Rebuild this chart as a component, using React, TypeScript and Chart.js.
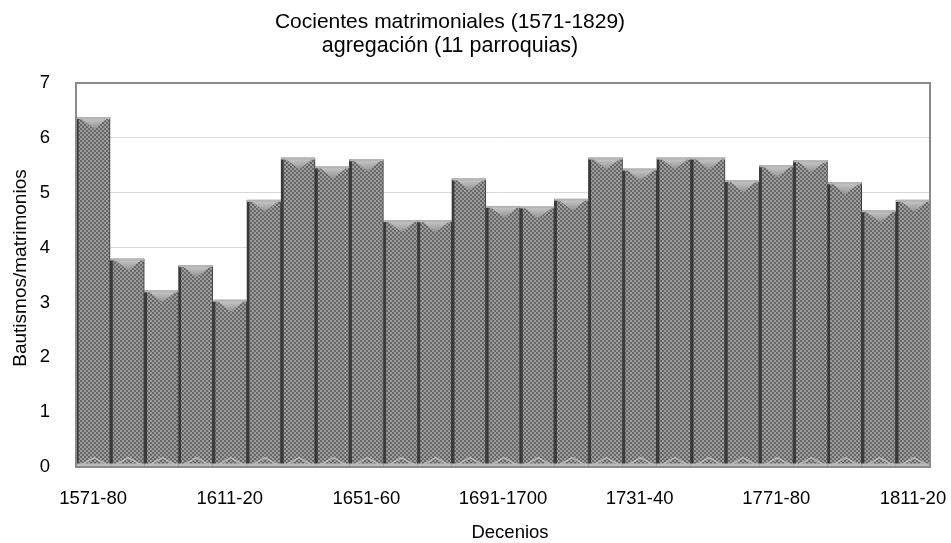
import React, { useEffect, useRef } from "react";
import { Chart, registerables } from "chart.js";

Chart.register(...registerables);

const decades = [
  "1571-80", "1581-90", "1591-1600", "1601-10", "1611-20", "1621-30", "1631-40",
  "1641-50", "1651-60", "1661-70", "1671-80", "1681-90", "1691-1700", "1701-10",
  "1711-20", "1721-30", "1731-40", "1741-50", "1751-60", "1761-70", "1771-80",
  "1781-90", "1791-1800", "1801-10", "1811-20",
];

const ratios = [
  6.38, 3.8, 3.22, 3.68, 3.05, 4.87, 5.64, 5.48, 5.61, 4.5, 4.5, 5.26, 4.76,
  4.75, 4.89, 5.64, 5.44, 5.64, 5.64, 5.23, 5.5, 5.59, 5.19, 4.68, 4.87,
];

const titleText = "Cocientes matrimoniales (1571-1829)";
const subtitleText = "agregación (11 parroquias)";
const xTitle = "Decenios";
const yTitle = "Bautismos/matrimonios";
const labelEvery = 4;
const yMax = 7;

const FONT = "'Liberation Sans', Arial, Helvetica, sans-serif";

function makePattern(): CanvasPattern | string {
  const c = document.createElement("canvas");
  c.width = 4;
  c.height = 4;
  const g = c.getContext("2d");
  if (!g) return "#7e7e7e";
  g.fillStyle = "#9c9c9c";
  g.fillRect(0, 0, 4, 4);
  g.fillStyle = "#686868";
  g.fillRect(0, 0, 2, 2);
  g.fillRect(2, 2, 2, 2);
  const p = g.createPattern(c, "repeat");
  return p || "#7e7e7e";
}

const titlePlugin = {
  id: "titles",
  afterDraw(chart: any) {
    const { ctx } = chart;
    ctx.save();
    ctx.fillStyle = "#000";
    ctx.textAlign = "center";
    ctx.textBaseline = "middle";
    ctx.font = `21px ${FONT}`;
    ctx.fillText(titleText, 450, 22);
    ctx.font = `21.5px ${FONT}`;
    ctx.fillText(subtitleText, 450, 46);
    ctx.font = `18.5px ${FONT}`;
    ctx.fillText(xTitle, 510, 533);
    ctx.translate(21, 268);
    ctx.rotate(-Math.PI / 2);
    ctx.font = `19px ${FONT}`;
    ctx.fillText(yTitle, 0, 0);
    ctx.restore();
  },
};

const framePlugin = {
  id: "frame",
  afterDraw(chart: any) {
    const { ctx, chartArea } = chart;
    ctx.save();
    ctx.strokeStyle = "#8a8a8a";
    ctx.lineWidth = 2;
    ctx.strokeRect(chartArea.left, chartArea.top, chartArea.right - chartArea.left, chartArea.bottom - chartArea.top);
    ctx.restore();
  },
};

const barDecorPlugin = {
  id: "barDecor",
  afterDatasetsDraw(chart: any) {
    const { ctx } = chart;
    const meta = chart.getDatasetMeta(0);
    ctx.save();
    meta.data.forEach((bar: any) => {
      const { x, y, width, base } = bar.getProps(["x", "y", "width", "base"], true);
      const l = x - width / 2 + 3;
      const r = x + width / 2 - 1;
      const grad = ctx.createLinearGradient(0, y, 0, y + 12);
      grad.addColorStop(0, "#cccccc");
      grad.addColorStop(1, "#939393");
      ctx.fillStyle = grad;
      ctx.beginPath();
      ctx.moveTo(l, y);
      ctx.lineTo(r, y);
      ctx.lineTo(x + 1, y + 12);
      ctx.closePath();
      ctx.fill();
      ctx.fillStyle = "#b4b4b4";
      ctx.fillRect(l - 3, y, r - l + 4, 2);
      ctx.strokeStyle = "rgba(205,205,205,0.7)";
      ctx.lineWidth = 1.5;
      ctx.beginPath();
      ctx.moveTo(l + 3, base - 2);
      ctx.lineTo(x + 1, base - 9);
      ctx.lineTo(r - 3, base - 2);
      ctx.stroke();
      ctx.fillStyle = "#bcbcbc";
      ctx.fillRect(l - 3, base - 3, r - l + 4, 3);
    });
    ctx.restore();
  },
};

export default function App() {
  const ref = useRef<HTMLCanvasElement | null>(null);

  useEffect(() => {
    if (!ref.current) return;
    const chart = new Chart(ref.current, {
      type: "bar",
      data: {
        labels: decades,
        datasets: [
          {
            data: ratios,
            backgroundColor: makePattern() as any,
            borderColor: "#3a3a3a",
            borderWidth: { left: 3, right: 1, top: 0, bottom: 0 },
            borderSkipped: "bottom",
            barPercentage: 1,
            categoryPercentage: 1,
          },
        ],
      },
      options: {
        animation: false,
        responsive: false,
        events: [],
        layout: { padding: { left: 0, right: 21, top: 83, bottom: 0 } },
        plugins: {
          legend: { display: false },
          tooltip: { enabled: false },
          title: { display: false },
        },
        scales: {
          x: {
            afterFit: (s: any) => {
              s.height = 76;
              s.paddingLeft = 0;
              s.paddingRight = 0;
            },
            grid: { display: false, drawTicks: false },
            border: { display: true, color: "#8a8a8a", width: 2 },
            ticks: {
              autoSkip: false,
              maxRotation: 0,
              minRotation: 0,
              color: "#000",
              padding: 21,
              font: { family: FONT, size: 18.5 },
              callback: (_v: any, i: number) => (i % labelEvery === 0 ? decades[i] : ""),
            },
            title: { display: false },
          },
          y: {
            min: 0,
            max: yMax,
            afterFit: (s: any) => {
              s.width = 76;
              s.paddingTop = 0;
              s.paddingBottom = 0;
            },
            grid: { color: "#d8d8d8", lineWidth: 1, drawTicks: false },
            border: { display: true, color: "#8a8a8a", width: 2 },
            ticks: {
              stepSize: 1,
              color: "#000",
              padding: 26,
              font: { family: FONT, size: 18.5 },
            },
            title: { display: false },
          },
        },
      },
      plugins: [barDecorPlugin, framePlugin, titlePlugin],
    });
    return () => chart.destroy();
  }, []);

  return (
    <div style={{ position: "absolute", left: 0, top: 0, width: 951, height: 543, background: "#fff" }}>
      <canvas ref={ref} width={951} height={543} />
    </div>
  );
}
